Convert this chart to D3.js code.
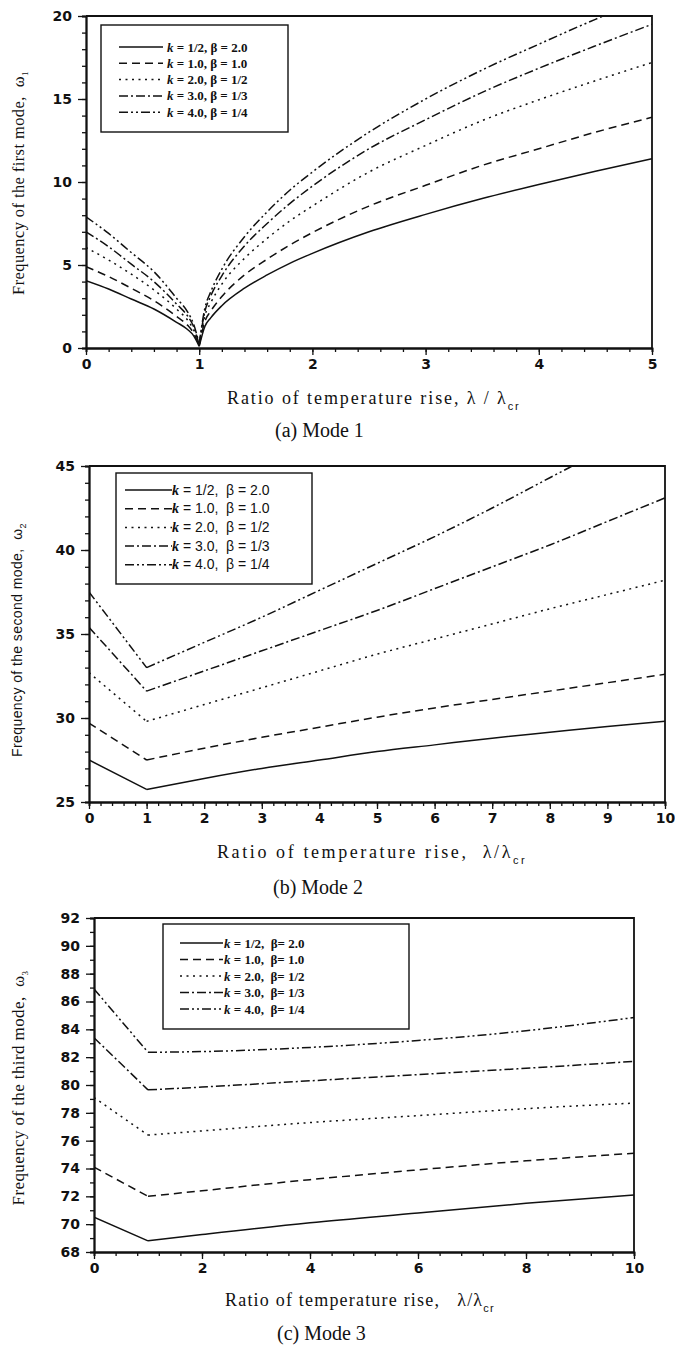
<!DOCTYPE html>
<html>
<head>
<meta charset="utf-8">
<script src="https://cdn.jsdelivr.net/npm/d3@7"></script>
<style>
  body { margin: 0; background: #fff; }
</style>
</head>
<body>
<div id="chart"></div>
<script>
// ---- Data ----
// (a) Mode 1
const mode1X = [0, 0.2, 0.4, 0.6, 0.8, 0.9, 0.95, 1.0, 1.05, 1.1, 1.2, 1.4, 1.6, 1.8, 2.0, 2.5, 3.0, 3.5, 4.0, 4.5, 5.0];
const mode1Values = [
  [4.05, 3.55, 2.95, 2.35, 1.55, 1.1, 0.75, 0.1, 1.3, 1.8, 2.55, 3.6, 4.4, 5.1, 5.7, 7.0, 8.05, 9.0, 9.85, 10.65, 11.4],
  [4.9, 4.3, 3.6, 2.85, 1.9, 1.35, 0.9, 0.15, 1.6, 2.2, 3.1, 4.4, 5.35, 6.2, 6.95, 8.55, 9.8, 11.0, 12.0, 13.0, 13.9],
  [6.05, 5.3, 4.45, 3.5, 2.35, 1.65, 1.1, 0.2, 1.95, 2.7, 3.85, 5.4, 6.6, 7.65, 8.55, 10.6, 12.2, 13.7, 14.95, 16.1, 17.2],
  [7.0, 6.1, 5.05, 4.0, 2.65, 1.9, 1.3, 0.2, 2.2, 3.1, 4.35, 6.15, 7.5, 8.7, 9.75, 12.0, 13.75, 15.4, 16.85, 18.2, 19.5],
  [7.9, 6.9, 5.75, 4.6, 3.0, 2.15, 1.45, 0.25, 2.4, 3.35, 4.75, 6.7, 8.2, 9.5, 10.6, 13.0, 15.0, 16.75, 18.3, 19.8, 21.2]
];
// (b) Mode 2
const mode2X = [0, 1, 2, 3, 4, 5, 6, 7, 8, 9, 10];
const mode2Values = [
  [27.5, 25.75, 26.4, 27.0, 27.5, 28.0, 28.4, 28.8, 29.15, 29.5, 29.8],
  [29.7, 27.5, 28.2, 28.85, 29.45, 30.05, 30.6, 31.1, 31.6, 32.1, 32.6],
  [32.7, 29.8, 30.8, 31.8, 32.8, 33.8, 34.7, 35.6, 36.5, 37.35, 38.2],
  [35.4, 31.6, 32.8, 34.0, 35.2, 36.4, 37.7, 39.0, 40.3, 41.7, 43.1],
  [37.5, 33.0, 34.5, 36.0, 37.6, 39.2, 40.8, 42.5, 44.3, 46.1, 48.0]
];
// (c) Mode 3
const mode3X = [0, 1, 2, 4, 6, 8, 10];
const mode3Values = [
  [70.5, 68.8, 69.25, 70.1, 70.8, 71.5, 72.1],
  [74.1, 72.0, 72.4, 73.2, 73.9, 74.55, 75.1],
  [79.1, 76.4, 76.7, 77.3, 77.8, 78.3, 78.7],
  [83.4, 79.65, 79.85, 80.3, 80.75, 81.2, 81.7],
  [86.9, 82.35, 82.4, 82.7, 83.2, 83.9, 84.85]
];

// Tick labels
const mode1XTicks = [0, 1, 2, 3, 4, 5];
const mode1YTicks = [0, 5, 10, 15, 20];
const mode2XTicks = [0, 1, 2, 3, 4, 5, 6, 7, 8, 9, 10];
const mode2YTicks = [25, 30, 35, 40, 45];
const mode3XTicks = [0, 2, 4, 6, 8, 10];
const mode3YTicks = [68, 70, 72, 74, 76, 78, 80, 82, 84, 86, 88, 90, 92];

// Legend entries (k, rest of label)
const legendK = ["k", "k", "k", "k", "k"];
const legendA = [" = 1/2, β = 2.0", " = 1.0, β = 1.0", " = 2.0, β = 1/2", " = 3.0, β = 1/3", " = 4.0, β = 1/4"];
const legendB = [" = 1/2,  β = 2.0", " = 1.0,  β = 1.0", " = 2.0,  β = 1/2", " = 3.0,  β = 1/3", " = 4.0,  β = 1/4"];
const legendC = [" = 1/2,  β= 2.0", " = 1.0,  β= 1.0", " = 2.0,  β= 1/2", " = 3.0,  β= 1/3", " = 4.0,  β= 1/4"];

// Styling
const ink = "#111";
const dashes = [null, "8,5", "2,4.5", "9,3,2,3", "9,3,2,3,2,3"];
const tickFont = "'DejaVu Sans', sans-serif";
const serif = "'Liberation Serif', 'Times New Roman', serif";
const sans = "'Liberation Sans', Arial, sans-serif";

const svg = d3.select("#chart").append("svg")
  .attr("width", 675).attr("height", 1346)
  .style("background", "#fff");

const panels = [
  {
    id: "a", xVals: mode1X, series: mode1Values,
    xDomain: [0, 5], yDomain: [0, 20],
    left: 86, right: 652, top: 16, bottom: 348,
    xTicks: mode1XTicks, yTicks: mode1YTicks,
    xMinor: d3.range(0, 5.001, 0.2), yMinor: d3.range(0, 20.001, 1),
    xTitle: { x: 227, y: 404, main: "Ratio of temperature rise, λ / λ", sub: "cr", spacing: 1.9 },
    yTitle: { x: 24, y: 183, main: "Frequency of the first mode,  ω", sub: "1", font: serif, size: 16.5 },
    caption: { x: 275, y: 437, text: "(a) Mode 1" },
    legend: { x: 101, y: 25, w: 187, h: 107, y0: 47, dy: 16.3, lx1: 119, lx2: 163, tx: 167, labels: legendA, font: serif, size: 13, weight: "bold" }
  },
  {
    id: "b", xVals: mode2X, series: mode2Values,
    xDomain: [0, 10], yDomain: [25, 45],
    left: 89, right: 665, top: 466, bottom: 802,
    xTicks: mode2XTicks, yTicks: mode2YTicks,
    xMinor: d3.range(0, 10.001, 0.2), yMinor: d3.range(25, 45.001, 1),
    xTitle: { x: 217, y: 858, main: "Ratio of temperature rise,  λ/λ", sub: "cr", spacing: 2.6 },
    yTitle: { x: 22, y: 640, main: "Frequency of the second mode,  ω", sub: "2", font: sans, size: 14 },
    caption: { x: 273, y: 894, text: "(b) Mode 2" },
    legend: { x: 116, y: 473, w: 196, h: 111, y0: 490, dy: 18.7, lx1: 125, lx2: 172, tx: 172, labels: legendB, font: sans, size: 14, weight: "normal" }
  },
  {
    id: "c", xVals: mode3X, series: mode3Values,
    xDomain: [0, 10], yDomain: [68, 92],
    left: 94, right: 634, top: 918, bottom: 1252,
    xTicks: mode3XTicks, yTicks: mode3YTicks,
    xMinor: d3.range(0, 10.001, 0.4), yMinor: d3.range(68, 92.001, 1),
    xTitle: { x: 225, y: 1306, main: "Ratio of temperature rise,   λ/λ", sub: "cr", spacing: 1.2 },
    yTitle: { x: 24, y: 1088, main: "Frequency of the third mode,  ω", sub: "3", font: serif, size: 17 },
    caption: { x: 277, y: 1340, text: "(c) Mode 3" },
    legend: { x: 163, y: 924, w: 246, h: 105, y0: 943, dy: 16.5, lx1: 180, lx2: 223, tx: 224, labels: legendC, font: serif, size: 13, weight: "bold" }
  }
];

function styleAxis(sel) {
  sel.attr("font-family", tickFont).attr("font-size", 14).attr("font-weight", "bold");
  sel.selectAll(".tick line").attr("stroke", ink).attr("stroke-width", 1.3);
  sel.selectAll(".tick text").attr("fill", ink);
  sel.select(".domain").attr("stroke", ink).attr("stroke-width", 1.8);
}

function drawPanel(p) {
  const x = d3.scaleLinear().domain(p.xDomain).range([p.left, p.right]);
  const y = d3.scaleLinear().domain(p.yDomain).range([p.bottom, p.top]);
  const g = svg.append("g").attr("class", "panel-" + p.id);

  const clipId = "clip-" + p.id;
  svg.append("clipPath").attr("id", clipId).append("rect")
    .attr("x", p.left).attr("y", p.top)
    .attr("width", p.right - p.left).attr("height", p.bottom - p.top);

  // Curves: two monotone branches meeting at the critical point (x = 1)
  const line = d3.line().x(d => x(d[0])).y(d => y(d[1])).curve(d3.curveMonotoneX);
  const k = p.xVals.indexOf(1);
  g.selectAll("path.curve")
    .data(p.series)
    .join("path")
    .attr("class", "curve")
    .attr("d", vals => {
      const pts = p.xVals.map((xv, j) => [xv, vals[j]]);
      return line(pts.slice(0, k + 1)) + line(pts.slice(k));
    })
    .attr("fill", "none")
    .attr("stroke", ink)
    .attr("stroke-width", 1.5)
    .attr("stroke-dasharray", (d, i) => dashes[i])
    .attr("clip-path", `url(#${clipId})`);

  // Minor ticks
  g.append("g").attr("transform", `translate(0,${p.bottom})`)
    .call(d3.axisBottom(x).tickValues(p.xMinor).tickSize(4).tickFormat(""))
    .call(styleAxis);
  g.append("g").attr("transform", `translate(${p.left},0)`)
    .call(d3.axisLeft(y).tickValues(p.yMinor).tickSize(4).tickFormat(""))
    .call(styleAxis);

  // Major ticks and labels
  g.append("g").attr("transform", `translate(0,${p.bottom})`)
    .call(d3.axisBottom(x).tickValues(p.xTicks).tickSize(7).tickSizeOuter(0).tickPadding(4).tickFormat(d3.format("d")))
    .call(styleAxis);
  g.append("g").attr("transform", `translate(${p.left},0)`)
    .call(d3.axisLeft(y).tickValues(p.yTicks).tickSize(8).tickSizeOuter(0).tickPadding(6).tickFormat(d3.format("d")))
    .call(styleAxis);

  // Frame (top and right)
  g.append("path")
    .attr("d", `M${p.left},${p.top}H${p.right}V${p.bottom}`)
    .attr("fill", "none").attr("stroke", ink).attr("stroke-width", 1.8);

  // Legend
  const L = p.legend;
  const lg = g.append("g").attr("class", "legend");
  lg.append("rect")
    .attr("x", L.x).attr("y", L.y).attr("width", L.w).attr("height", L.h)
    .attr("fill", "#fff").attr("stroke", ink).attr("stroke-width", 1.4);
  const rows = lg.selectAll("g.row").data(L.labels).join("g").attr("class", "row")
    .attr("transform", (d, i) => `translate(0,${L.y0 + i * L.dy})`);
  rows.append("line")
    .attr("x1", L.lx1).attr("x2", L.lx2)
    .attr("stroke", ink).attr("stroke-width", 1.5)
    .attr("stroke-dasharray", (d, i) => dashes[i]);
  const txt = rows.append("text")
    .attr("x", L.tx).attr("y", 4.5)
    .attr("font-family", L.font).attr("font-size", L.size).attr("font-weight", L.weight)
    .attr("fill", ink).style("white-space", "pre");
  txt.append("tspan").attr("font-style", "italic").attr("font-weight", "bold")
    .attr("font-family", serif).text((d, i) => legendK[i]);
  txt.append("tspan").text(d => d);

  // X axis title
  const xt = g.append("text")
    .attr("x", p.xTitle.x).attr("y", p.xTitle.y)
    .attr("font-family", serif).attr("font-size", 18)
    .attr("letter-spacing", p.xTitle.spacing)
    .attr("fill", ink).style("white-space", "pre");
  xt.append("tspan").text(p.xTitle.main);
  xt.append("tspan").attr("font-size", 11).attr("dy", 6).attr("font-family", sans).text(p.xTitle.sub);

  // Y axis title
  const yt = g.append("text")
    .attr("transform", `translate(${p.yTitle.x},${p.yTitle.y}) rotate(-90)`)
    .attr("text-anchor", "middle")
    .attr("font-family", p.yTitle.font).attr("font-size", p.yTitle.size)
    .attr("letter-spacing", 0.4)
    .attr("fill", ink).style("white-space", "pre");
  yt.append("tspan").text(p.yTitle.main);
  yt.append("tspan").attr("font-size", 9).attr("dy", 4).text(p.yTitle.sub);

  // Caption
  g.append("text")
    .attr("x", p.caption.x).attr("y", p.caption.y)
    .attr("font-family", serif).attr("font-size", 20)
    .attr("fill", ink)
    .text(p.caption.text);
}

panels.forEach(drawPanel);
</script>
</body>
</html>
